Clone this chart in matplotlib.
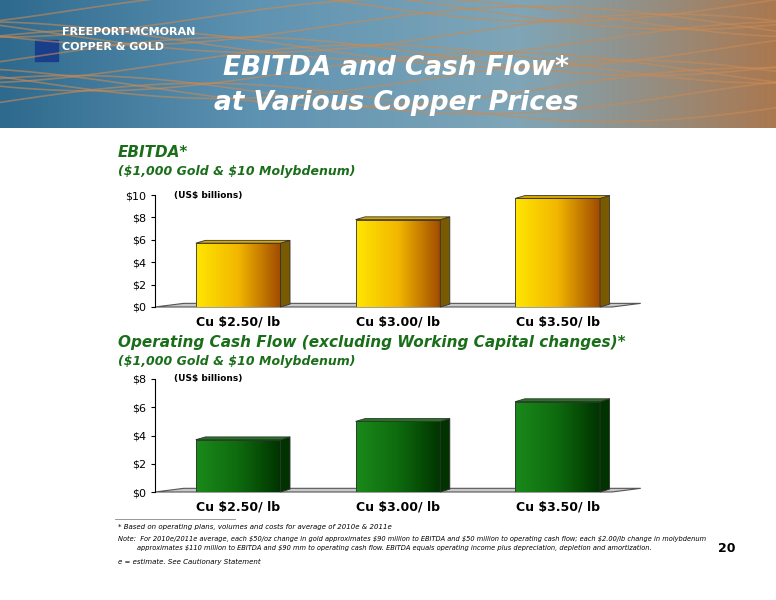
import matplotlib
matplotlib.use("Agg")
import matplotlib.pyplot as plt
import numpy as np
from matplotlib.patches import Polygon, Rectangle
from matplotlib.colors import LinearSegmentedColormap

plt.rcParams['text.parse_math'] = False

categories = ["Cu $2.50/ lb", "Cu $3.00/ lb", "Cu $3.50/ lb"]
ebitda = [5.7, 7.8, 9.7]
cashflow = [3.7, 5.0, 6.4]
ebitda_ticks = [0, 2, 4, 6, 8, 10]
cash_ticks = [0, 2, 4, 6, 8]

W, H = 776, 600
fig = plt.figure(figsize=(7.76, 6.0), dpi=100)
fig.patch.set_facecolor("white")

# header banner
hdr = fig.add_axes([0, 1 - 128 / H, 1, 128 / H])
hdr.set_axis_off()
grad = np.linspace(0, 1, 256).reshape(1, -1)
hdr.imshow(np.vstack([grad] * 10), aspect="auto", extent=[0, 1, 0, 1],
           cmap=LinearSegmentedColormap.from_list("b", ["#2e6a8e", "#5f93b2", "#7fa6b8", "#a97850"]))
for k in range(14):
    t = np.linspace(0, 1, 100)
    hdr.plot(t, 0.2 + 0.06 * k + 0.15 * np.sin(t * 6 + k), color="#c98a55", lw=1.2, alpha=0.6)
hdr.set_xlim(0, 1); hdr.set_ylim(0, 1)
hdr.add_patch(Rectangle((0.045, 0.52), 0.03, 0.17, color="#1a3f8a"))
hdr.text(0.08, 0.75, "FREEPORT-MCMORAN", color="white", fontsize=8, weight="bold", va="center")
hdr.text(0.08, 0.63, "COPPER & GOLD", color="white", fontsize=8, weight="bold", va="center")
fig.text(0.51, 1 - 68 / H, "EBITDA and Cash Flow*", ha="center", va="center",
         fontsize=19, weight="bold", style="italic", color="white")
fig.text(0.51, 1 - 103 / H, "at Various Copper Prices", ha="center", va="center",
         fontsize=19, weight="bold", style="italic", color="white")

fig.text(118 / W, 1 - 152 / H, "EBITDA*", fontsize=11, weight="bold", style="italic", color="#1a6e1a", va="center")
fig.text(118 / W, 1 - 172 / H, "($1,000 Gold & $10 Molybdenum)", fontsize=9, weight="bold", style="italic", color="#1a6e1a", va="center")
fig.text(118 / W, 1 - 343 / H, "Operating Cash Flow (excluding Working Capital changes)*", fontsize=11, weight="bold", style="italic", color="#1a6e1a", va="center")
fig.text(118 / W, 1 - 357 / H + -0.008, "($1,000 Gold & $10 Molybdenum)", fontsize=9, weight="bold", style="italic", color="#1a6e1a", va="center")

gold = LinearSegmentedColormap.from_list("g", ["#ffe600", "#f2b600", "#a04a00"])
green = LinearSegmentedColormap.from_list("gr", ["#1a8a1a", "#0e6a0e", "#003300"])

def chart(rect, vals, ticks, cmap, side, top):
    ax = fig.add_axes(rect)
    ymax = ticks[-1]
    x = np.array([0.0, 1.0, 2.0])
    w = 0.53
    dx, dy = 0.06, ymax * 0.025
    x0, x1 = -0.52, 2.34
    ax.set_xlim(x0, x1)
    ax.set_ylim(0, ymax)
    floor = Polygon([(x0, 0), (x1, 0), (x1 + 0.18, dy * 1.3), (x0 + 0.18, dy * 1.3)],
                    closed=True, facecolor="#c8c8c8", edgecolor="#555555", lw=0.8, zorder=1, clip_on=False)
    ax.add_patch(floor)
    g = np.linspace(0, 1, 256).reshape(1, -1)
    g = np.vstack([g] * 5)
    for xi, v in zip(x, vals):
        l, r = xi - w / 2, xi + w / 2
        ax.imshow(g, extent=[l, r, 0, v], aspect="auto", cmap=cmap, zorder=3)
        ax.add_patch(Rectangle((l, 0), w, v, fill=False, edgecolor="#333333", lw=0.6, zorder=4))
        ax.add_patch(Polygon([(r, 0), (r + dx, dy), (r + dx, v + dy), (r, v)], closed=True,
                             facecolor=side, edgecolor="#333333", lw=0.6, zorder=4, clip_on=False))
        ax.add_patch(Polygon([(l, v), (r, v), (r + dx, v + dy), (l + dx, v + dy)], closed=True,
                             facecolor=top, edgecolor="#333333", lw=0.6, zorder=4, clip_on=False))
    ax.set_xlim(x0, x1)
    ax.set_yticks(ticks)
    ax.set_yticklabels([f"${t}" for t in ticks], fontsize=8)
    ax.set_xticks(x)
    ax.set_xticklabels(categories, fontsize=9, weight="bold")
    ax.tick_params(axis="x", length=0, pad=6)
    ax.tick_params(axis="y", length=3)
    for s in ["top", "right", "bottom"]:
        ax.spines[s].set_visible(False)
    ax.text(x0 + 0.12, ymax, "(US$ billions)", fontsize=6.5, weight="bold", va="center")
    return ax

chart([155 / W, 1 - 307 / H, 457 / W, 112 / H], ebitda, ebitda_ticks, gold, "#7a5a00", "#d8a800")
chart([155 / W, 1 - 492 / H, 457 / W, 113 / H], cashflow, cash_ticks, green, "#003300", "#1f7a1f")

fig.add_artist(plt.Line2D([115 / W, 235 / W], [1 - 519 / H] * 2, color="#888888", lw=0.6))
fig.text(118 / W, 1 - 527 / H, "* Based on operating plans, volumes and costs for average of 2010e & 2011e",
         fontsize=5, style="italic", va="center")
fig.text(118 / W, 1 - 539 / H, "Note:  For 2010e/2011e average, each $50/oz change in gold approximates $90 million to EBITDA and $50 million to operating cash flow; each $2.00/lb change in molybdenum",
         fontsize=4.8, style="italic", va="center")
fig.text(137 / W, 1 - 548 / H, "approximates $110 million to EBITDA and $90 mm to operating cash flow. EBITDA equals operating income plus depreciation, depletion and amortization.",
         fontsize=4.8, style="italic", va="center")
fig.text(118 / W, 1 - 562 / H, "e = estimate. See Cautionary Statement", fontsize=5, style="italic", va="center")
fig.text(718 / W, 1 - 549 / H, "20", fontsize=9, weight="bold", va="center")

fig.savefig("out.png", dpi=100)
